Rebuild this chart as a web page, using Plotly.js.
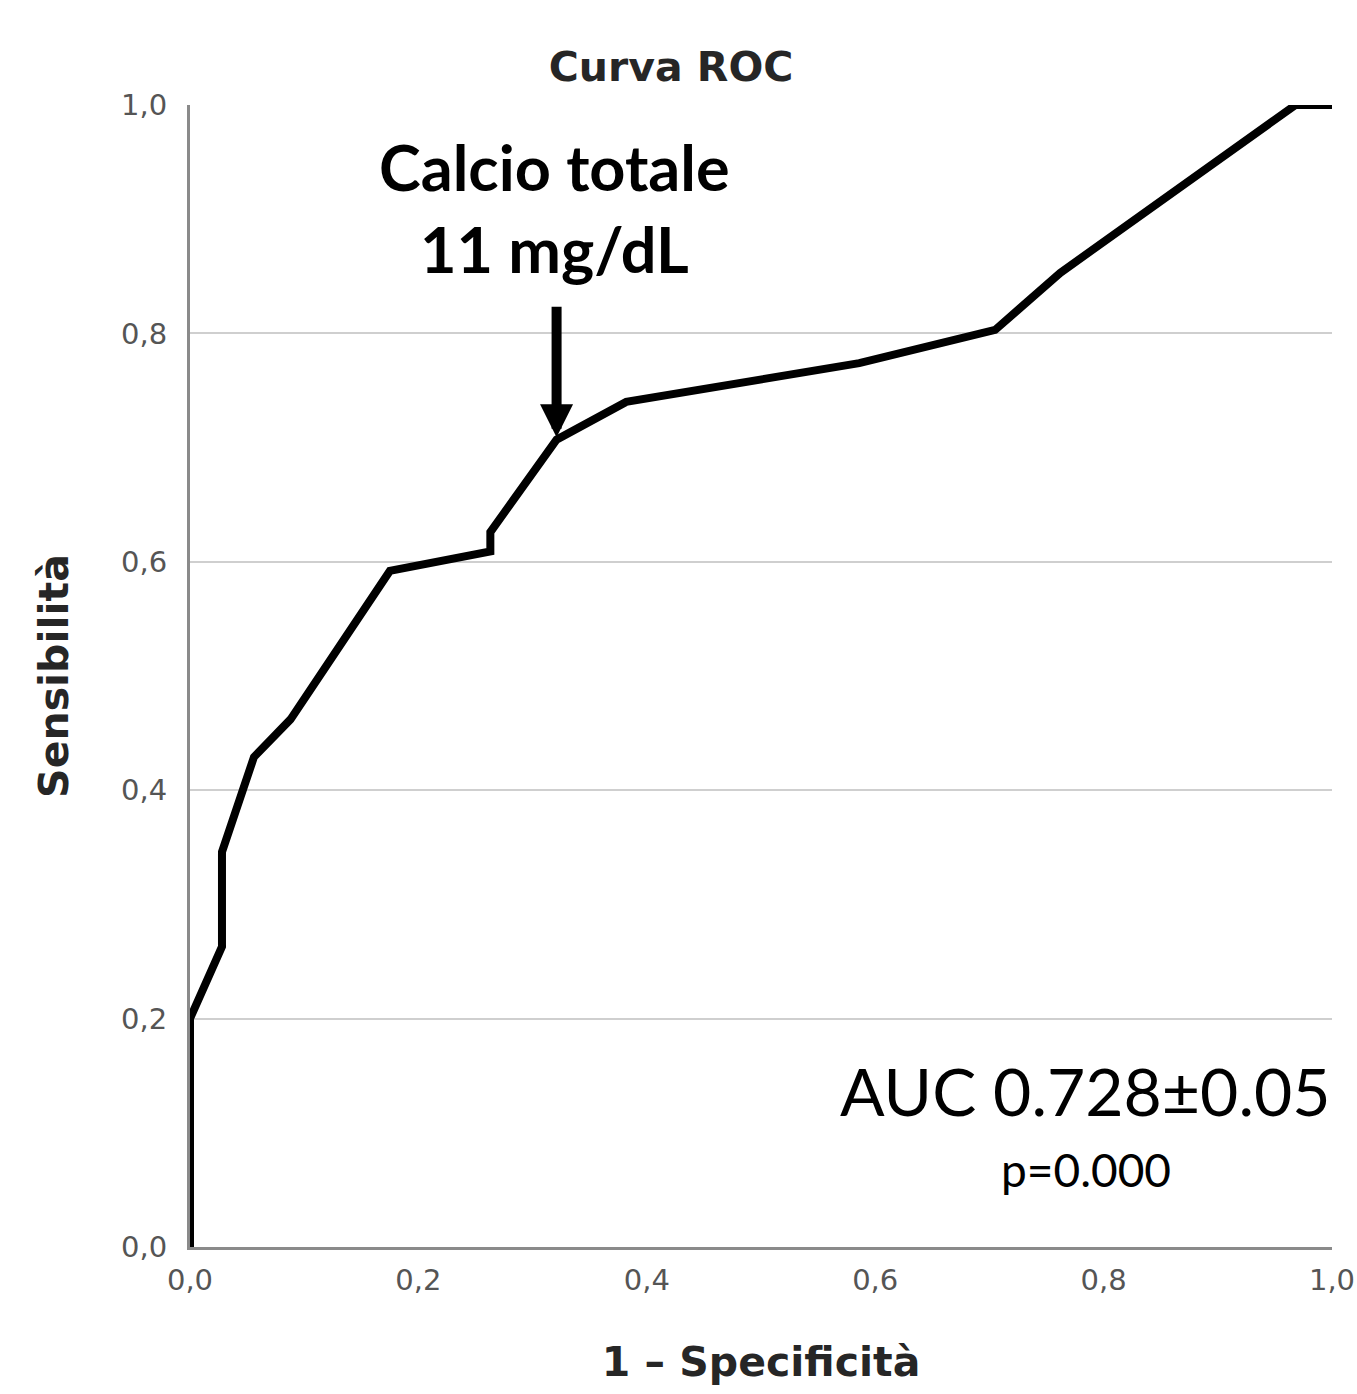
<!DOCTYPE html>
<html>
<head>
<meta charset="utf-8">
<script src="https://cdn.plot.ly/plotly-3.0.1.min.js"></script>
<style>html,body{margin:0;padding:0;background:#fff;}#chart{width:1357px;height:1394px;}</style>
</head>
<body>
<div id="chart"></div>
<script>
// ROC curve points
const specComplement = [0, 0, 0.028, 0.028, 0.056, 0.088, 0.175, 0.263, 0.263, 0.321, 0.382, 0.586, 0.705, 0.762, 0.968, 1.0];
const sensitivity    = [0, 0.2, 0.263, 0.346, 0.429, 0.462, 0.592, 0.609, 0.626, 0.707, 0.740, 0.774, 0.803, 0.853, 1.0, 1.0];
const tickValues = [0, 0.2, 0.4, 0.6, 0.8, 1.0];
const tickLabels = ["0,0", "0,2", "0,4", "0,6", "0,8", "1,0"];
const cutoffPoint = {x: 0.321, y: 0.709};

const trace = {
  x: specComplement, y: sensitivity, type: 'scatter', mode: 'lines',
  line: {color: '#000', width: 8}, cliponaxis: false, hoverinfo: 'skip', showlegend: false
};

const layout = {
  width: 1357, height: 1394,
  margin: {l: 190, r: 25, t: 105, b: 147},
  paper_bgcolor: '#fff', plot_bgcolor: '#fff',
  font: {family: 'DejaVu Sans', color: '#555'},
  title: {text: '<b>Curva ROC</b>', x: 671/1357, xref: 'container', xanchor: 'center',
          y: 1 - 67/1394, yref: 'container', yanchor: 'middle',
          font: {family: 'DejaVu Sans', size: 41, color: '#262626'}},
  xaxis: {range: [0, 1], tickvals: tickValues, ticktext: tickLabels, showgrid: false, zeroline: false,
          showline: true, linecolor: '#8a8a8a', linewidth: 3, ticks: '', ticklabelstandoff: 5,
          tickfont: {family: 'DejaVu Sans', size: 29, color: '#555'},
          title: {text: '<b>1 – Specificità</b>', standoff: 52, font: {family: 'DejaVu Sans', size: 41, color: '#262626'}},
          fixedrange: true},
  yaxis: {range: [0, 1], tickvals: tickValues, ticktext: tickLabels, showgrid: true, gridcolor: '#cfcfcf', gridwidth: 2,
          zeroline: false, showline: true, linecolor: '#8a8a8a', linewidth: 3, ticks: '', ticklabelstandoff: 14,
          tickfont: {family: 'DejaVu Sans', size: 29, color: '#555'},
          title: {text: '<b>Sensibilità</b>', standoff: 40, font: {family: 'DejaVu Sans', size: 41, color: '#262626'}},
          fixedrange: true},
  annotations: [
    {x: 0.3196, y: 0.910, xref: 'x', yref: 'y', text: '<b>Calcio totale<br>11 mg/dL</b>', showarrow: false,
     xanchor: 'center', yanchor: 'middle', font: {family: 'Lato', size: 63, color: '#000'}},
    {x: cutoffPoint.x, y: cutoffPoint.y, xref: 'x', yref: 'y', text: '', showarrow: true,
     ax: 0, ay: -132, arrowhead: 2, arrowwidth: 10, arrowsize: 0.66, arrowcolor: '#000', standoff: 0},
    {x: 0.784, y: 0.137, xref: 'x', yref: 'y', text: 'AUC 0.728±0.05', showarrow: false,
     xanchor: 'center', yanchor: 'middle', font: {family: 'Lato', size: 66, color: '#000'}},
    {x: 0.785, y: 0.068, xref: 'x', yref: 'y', text: 'p=0.000', showarrow: false,
     xanchor: 'center', yanchor: 'middle', font: {family: 'Lato', size: 46, color: '#000'}}
  ]
};

Plotly.newPlot('chart', [trace], layout, {staticPlot: true, displayModeBar: false});
</script>
</body>
</html>
